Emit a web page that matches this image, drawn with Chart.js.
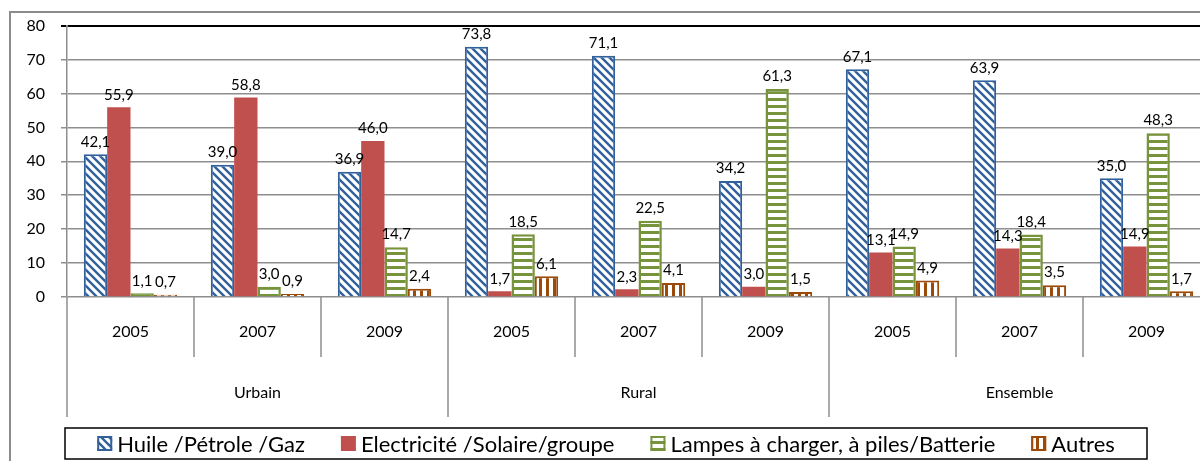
<!DOCTYPE html>
<html>
<head>
<meta charset="utf-8">
<script src="https://cdn.jsdelivr.net/npm/chart.js@4.4.1/dist/chart.umd.min.js"></script>
<style>
  html, body { margin: 0; padding: 0; background: #fff; overflow: hidden; }
  .wrap { position: relative; width: 1215px; height: 461px; }
</style>
</head>
<body>
<div class="wrap"><canvas id="eclairage"></canvas></div>
<script>
// ------------------------------ data ------------------------------
const years = ['2005', '2007', '2009', '2005', '2007', '2009', '2005', '2007', '2009'];
const groups = ['Urbain', 'Rural', 'Ensemble'];
const yTicks = [0, 10, 20, 30, 40, 50, 60, 70, 80];

const huile = [42.1, 39.0, 36.9, 73.8, 71.1, 34.2, 67.1, 63.9, 35.0];
const electricite = [55.9, 58.8, 46.0, 1.7, 2.3, 3.0, 13.1, 14.3, 14.9];
const lampes = [1.1, 3.0, 14.7, 18.5, 22.5, 61.3, 14.9, 18.4, 48.3];
const autres = [0.7, 0.9, 2.4, 6.1, 4.1, 1.5, 4.9, 3.5, 1.7];

const FONT = 'Lato, "Open Sans", sans-serif';
const GRID = '#8e8e8e';

// ------------------------------ hachures ------------------------------
function hatch(color, kind) {
    const n = kind === 'diag' ? 8 : 7;
    const c = document.createElement('canvas');
    c.width = n;
    c.height = n;
    const g = c.getContext('2d');
    g.fillStyle = '#fff';
    g.fillRect(0, 0, n, n);
    g.fillStyle = color;
    g.strokeStyle = color;
    if (kind === 'diag') {
        g.lineWidth = 2.4;
        g.beginPath();
        g.moveTo(-2, -2); g.lineTo(n + 2, n + 2);
        g.moveTo(-2, n - 2); g.lineTo(2, n + 2);
        g.moveTo(n - 2, -2); g.lineTo(n + 2, 2);
        g.stroke();
    } else if (kind === 'horiz') {
        g.fillRect(0, 0, n, 3);
    } else {
        g.fillRect(0, 0, 3, n);
    }
    const ctx = document.createElement('canvas').getContext('2d');
    return ctx.createPattern(c, 'repeat');
}

const blue = '#31609a';
const red = '#c0504d';
const green = '#77933c';
const orange = '#9c4a0a';

const datasets = [
    { label: 'Huile /Pétrole /Gaz', data: huile, backgroundColor: hatch(blue, 'diag'), borderColor: blue, borderWidth: 2 },
    { label: 'Electricité /Solaire/groupe', data: electricite, backgroundColor: red, borderColor: red, borderWidth: 0 },
    { label: 'Lampes à charger, à piles/Batterie', data: lampes, backgroundColor: hatch(green, 'horiz'), borderColor: green, borderWidth: 2.5 },
    { label: 'Autres', data: autres, backgroundColor: hatch(orange, 'vert'), borderColor: orange, borderWidth: 2 }
];

// ------------------------------ plugins ------------------------------
const frame = {
    id: 'frame',
    beforeDraw(chart) {
        const ctx = chart.ctx;
        ctx.save();
        ctx.strokeStyle = '#8c8c8c';
        ctx.lineWidth = 2;
        ctx.beginPath();
        ctx.moveTo(10, chart.height);
        ctx.lineTo(10, 12);
        ctx.lineTo(chart.width, 12);
        ctx.stroke();
        ctx.restore();
    }
};

const valueLabels = {
    id: 'valueLabels',
    afterDatasetsDraw(chart) {
        const ctx = chart.ctx;
        ctx.save();
        ctx.font = '15px ' + FONT;
        ctx.fillStyle = '#000';
        ctx.textAlign = 'center';
        ctx.textBaseline = 'bottom';
        chart.data.datasets.forEach((ds, i) => {
            chart.getDatasetMeta(i).data.forEach((bar, j) => {
                const txt = ds.data[j].toFixed(1).replace('.', ',');
                ctx.fillText(txt, bar.x, bar.y - 5);
            });
        });
        ctx.restore();
    }
};

// axe des x à deux niveaux (années / milieu)
const xLevels = {
    id: 'xLevels',
    afterDraw(chart) {
        const ctx = chart.ctx;
        const x = chart.scales.x;
        const bottom = chart.chartArea.bottom;
        const half = (x.getPixelForValue(1) - x.getPixelForValue(0)) / 2;
        ctx.save();
        ctx.strokeStyle = GRID;
        ctx.lineWidth = 1.5;
        for (let i = 0; i <= years.length; i++) {
            const px = Math.round(x.getPixelForValue(0) - half + i * 2 * half);
            const len = i % 3 === 0 ? 120 : 60;
            ctx.beginPath();
            ctx.moveTo(px, bottom);
            ctx.lineTo(px, bottom + len);
            ctx.stroke();
        }
        ctx.fillStyle = '#000';
        ctx.textAlign = 'center';
        ctx.textBaseline = 'middle';
        ctx.font = '16px ' + FONT;
        years.forEach((y, i) => {
            ctx.fillText(y, x.getPixelForValue(i), bottom + 35);
        });
        groups.forEach((g, k) => {
            ctx.fillText(g, x.getPixelForValue(k * 3 + 1), bottom + 96);
        });
        ctx.restore();
    }
};

const boxLegend = {
    id: 'boxLegend',
    afterDraw(chart) {
        const ctx = chart.ctx;
        const box = { left: 65, top: 428, right: 1147, bottom: 459 };
        ctx.save();
        ctx.strokeStyle = '#000';
        ctx.lineWidth = 1.5;
        ctx.strokeRect(box.left, box.top, box.right - box.left, box.bottom - box.top);

        ctx.font = '22px ' + FONT;
        const sw = 15, gapText = 5, gapItem = 36;
        const widths = chart.data.datasets.map(d => ctx.measureText(d.label).width);
        const total = widths.reduce((a, w) => a + sw + gapText + w, 0) + gapItem * (widths.length - 1);
        let px = (box.left + box.right) / 2 - total / 2;
        const cy = (box.top + box.bottom) / 2;
        ctx.textBaseline = 'middle';
        ctx.textAlign = 'left';
        chart.data.datasets.forEach((ds, i) => {
            ctx.fillStyle = ds.backgroundColor;
            ctx.fillRect(px, cy - sw / 2, sw, sw);
            if (ds.borderWidth) {
                ctx.strokeStyle = ds.borderColor;
                ctx.lineWidth = 2;
                ctx.strokeRect(px + 1, cy - sw / 2 + 1, sw - 2, sw - 2);
            }
            ctx.fillStyle = '#000';
            ctx.fillText(ds.label, px + sw + gapText, cy + 1);
            px += sw + gapText + widths[i] + gapItem;
        });
        ctx.restore();
    }
};

// ------------------------------ chart ------------------------------
const config = {
    type: 'bar',
    data: { labels: years, datasets: datasets },
    options: {
        responsive: true,
        maintainAspectRatio: false,
        animation: false,
        devicePixelRatio: 1,
        categoryPercentage: 0.735,
        barPercentage: 1,
        layout: { padding: { left: 0, top: 22, right: 5, bottom: 0 } },
        plugins: {
            legend: { display: false },
            tooltip: { enabled: false }
        },
        scales: {
            x: {
                grid: { display: false },
                border: { display: false },
                ticks: { display: false },
                afterFit: s => { s.height = 164; }
            },
            y: {
                min: 0,
                max: 80,
                afterBuildTicks: s => { s.ticks = yTicks.map(v => ({ value: v })); },
                ticks: { color: '#000', font: { family: FONT, size: 16 }, padding: 16 },
                grid: {
                    color: c => c.tick && c.tick.value === 80 ? '#000' : GRID,
                    lineWidth: c => c.tick && c.tick.value === 80 ? 2 : 1.5,
                    tickLength: 6
                },
                border: { color: GRID, width: 1.5 },
                afterFit: s => { s.width = 67; }
            }
        }
    },
    plugins: [frame, valueLabels, xLevels, boxLegend]
};

new Chart(document.getElementById('eclairage'), config);
</script>
</body>
</html>
